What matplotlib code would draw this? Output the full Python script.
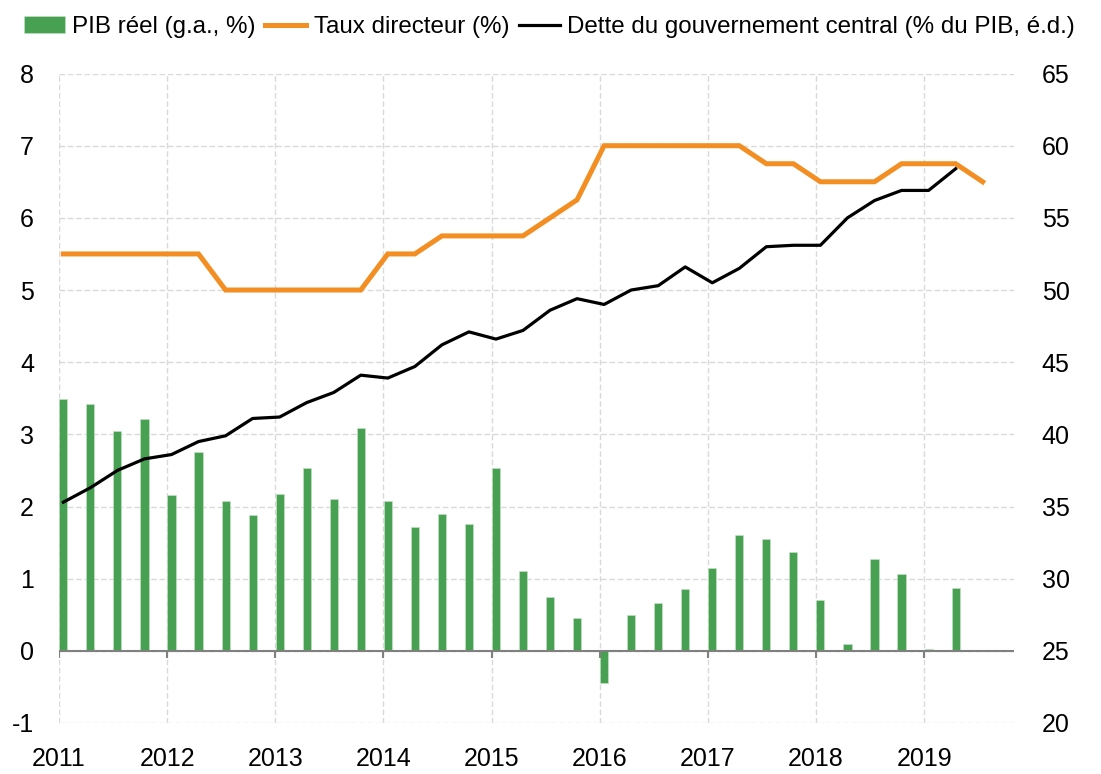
import numpy as np
import matplotlib
matplotlib.use('Agg')
import matplotlib.pyplot as plt

# quarterly data, 2011Q1 - 2019Q3
years = [2011, 2012, 2013, 2014, 2015, 2016, 2017, 2018, 2019]
quarters = [y + q / 4.0 for y in years for q in range(4)][:35]

pib = [3.49, 3.42, 3.05, 3.21,
       2.16, 2.75, 2.07, 1.88,
       2.18, 2.53, 2.11, 3.09,
       2.07, 1.72, 1.90, 1.76,
       2.53, 1.11, 0.75, 0.45,
       -0.45, 0.50, 0.66, 0.85,
       1.15, 1.60, 1.55, 1.37,
       0.71, 0.10, 1.27, 1.06,
       0.02, 0.87, np.nan]

taux = [5.5, 5.5, 5.5, 5.5,
        5.5, 5.5, 5.0, 5.0,
        5.0, 5.0, 5.0, 5.0,
        5.5, 5.5, 5.75, 5.75,
        5.75, 5.75, 6.0, 6.25,
        7.0, 7.0, 7.0, 7.0,
        7.0, 7.0, 6.75, 6.75,
        6.5, 6.5, 6.5, 6.75,
        6.75, 6.75, 6.5]

dette = [35.3, 36.3, 37.5, 38.3,
         38.6, 39.5, 39.9, 41.1,
         41.2, 42.2, 42.9, 44.1,
         43.9, 44.7, 46.2, 47.1,
         46.6, 47.2, 48.6, 49.4,
         49.0, 50.0, 50.3, 51.6,
         50.5, 51.5, 53.0, 53.1,
         53.1, 55.0, 56.2, 56.9,
         56.9, 58.4, np.nan]

x = np.array(quarters) + 0.04

green = '#48a152'
orange = '#f28e22'
grid_c = '#d9d9d9'

plt.rcParams['font.family'] = ['Liberation Sans', 'DejaVu Sans']
plt.rcParams['font.size'] = 18
plt.rcParams['axes.unicode_minus'] = False

fig = plt.figure(figsize=(11.01, 7.74), dpi=100)
ax = fig.add_axes([0.0536, 0.0659, 0.8674, 0.8391])
ax2 = ax.twinx()

ax.set_xlim(2011.0, 2019.83)
ax.set_ylim(-1, 8)
ax2.set_ylim(20, 65)

ax.set_yticks(range(-1, 9))
ax2.set_yticks(range(20, 70, 5))
ax.set_xticks(years)
ax.set_xticklabels([str(y) for y in years])

ax.grid(True, color=grid_c, linestyle=(0, (4, 2)), linewidth=1.0)
ax.set_axisbelow(True)

for sp in ['top', 'bottom', 'left', 'right']:
    ax.spines[sp].set_visible(False)
    ax2.spines[sp].set_visible(False)

ax.tick_params(axis='y', length=0, pad=18)
ax2.tick_params(axis='y', length=0, pad=20)
ax.tick_params(axis='x', length=0, pad=17)

ax.bar(x, pib, width=0.075, color=green, edgecolor='#c8e6c9', linewidth=0.4,
       label='PIB réel (g.a., %)', zorder=2)

# zero line with small year ticks
ax.axhline(0, color='#808080', linewidth=1.5, zorder=2.5)
ax.plot(years, [0] * len(years), linestyle='none', marker=3, markersize=5,
        markeredgewidth=1.5, color='#808080', zorder=2.5)

ax.plot(x, taux, color=orange, linewidth=3.6, label='Taux directeur (%)',
        solid_joinstyle='miter', zorder=3)
ax2.plot(x, dette, color='black', linewidth=2.3,
         label='Dette du gouvernement central (% du PIB, é.d.)', zorder=3)

h1, l1 = ax.get_legend_handles_labels()
h2, l2 = ax2.get_legend_handles_labels()
handles = [h1[1], h1[0], h2[0]]
labels = [l1[1], l1[0], l2[0]]
fig.legend(handles, labels, loc='center', bbox_to_anchor=(0.499, 0.965), ncol=3,
           frameon=False, handlelength=1.7, handletextpad=0.3,
           columnspacing=0.4, borderaxespad=0, fontsize=17.4)

fig.savefig('out.png', dpi=100)
